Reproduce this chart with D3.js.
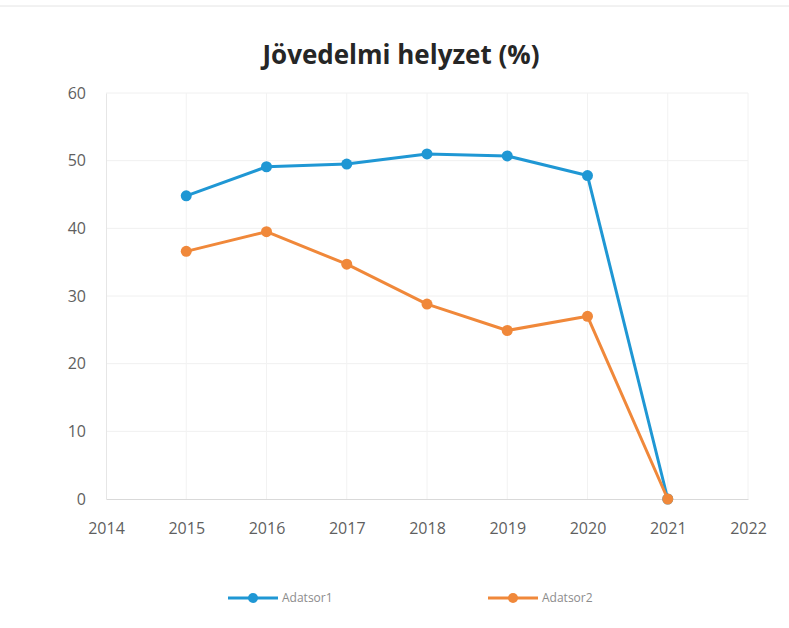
<!DOCTYPE html>
<html><head><meta charset="utf-8">
<script src="https://cdn.jsdelivr.net/npm/d3@7"></script>
<style>body{margin:0;background:#fff}svg{display:block}</style>
</head><body>
<svg id="c" width="789" height="628"></svg>
<script>
const years = [2015, 2016, 2017, 2018, 2019, 2020, 2021];
const series1 = [44.8, 49.1, 49.5, 51.0, 50.7, 47.8, 0];
const series2 = [36.6, 39.5, 34.7, 28.8, 24.9, 27.0, 0];
const seriesNames = ["Adatsor1", "Adatsor2"];
const colors = ["#1f97d4", "#f0883a"];
const xTicks = [2014, 2015, 2016, 2017, 2018, 2019, 2020, 2021, 2022];
const yTicks = [0, 10, 20, 30, 40, 50, 60];
const title = "Jövedelmi helyzet (%)";

const svg = d3.select("#c");
const x = d3.scaleLinear().domain([2014, 2022]).range([106, 748]);
const y = d3.scaleLinear().domain([0, 60]).range([499, 93]);
const font = "'Open Sans', 'Noto Sans', sans-serif";

// faint top border line
svg.append("line").attr("x1",0).attr("x2",789).attr("y1",6).attr("y2",6)
  .attr("stroke","#e4e4e4").attr("stroke-width",1);

// gridlines
svg.append("g").selectAll("line").data(yTicks.filter(d=>d>0)).join("line")
  .attr("x1", x(2014)).attr("x2", x(2022)).attr("y1", d=>y(d)).attr("y2", d=>y(d))
  .attr("stroke", "#f0f0f0").attr("stroke-width", 1);
svg.append("g").selectAll("line").data(xTicks.filter(d=>d>2014)).join("line")
  .attr("x1", d=>x(d)).attr("x2", d=>x(d)).attr("y1", y(0)).attr("y2", y(60))
  .attr("stroke", "#f2f2f2").attr("stroke-width", 1);

// axes
const xAxis = d3.axisBottom(x).tickValues(xTicks).tickFormat(d3.format("d")).tickSize(0).tickPadding(24);
const gx = svg.append("g").attr("transform", `translate(0,${y(0)})`).call(xAxis);
gx.select(".domain").attr("stroke", "#d9d9d9");
gx.selectAll("text").attr("font-family", font).attr("font-size", 16).attr("fill", "#5f5f5f");

const yAxis = d3.axisLeft(y).tickValues(yTicks).tickSize(0).tickPadding(20);
const gy = svg.append("g").attr("transform", `translate(${x(2014)},0)`).call(yAxis);
gy.select(".domain").attr("stroke", "#e6e6e6");
gy.selectAll("text").attr("font-family", font).attr("font-size", 16).attr("fill", "#5f5f5f");

// title
svg.append("text").attr("x", 401).attr("y", 64).attr("text-anchor", "middle")
  .attr("font-family", font).attr("font-weight", "bold").attr("font-size", 26)
  .attr("fill", "#262626").text(title);

// series
const allSeries = [series1, series2];
const line = d3.line().x((d,i)=>x(years[i])).y(d=>y(d));
allSeries.forEach((s, k) => {
  const g = svg.append("g");
  g.append("path").datum(s).attr("d", line).attr("fill", "none")
    .attr("stroke", colors[k]).attr("stroke-width", 3).attr("stroke-linejoin", "round");
  g.selectAll("circle").data(s).join("circle")
    .attr("cx", (d,i)=>x(years[i])).attr("cy", d=>y(d)).attr("r", 5.5)
    .attr("fill", colors[k]);
});

// legend
const legX = [228, 488];
seriesNames.forEach((n, k) => {
  const g = svg.append("g").attr("transform", `translate(${legX[k]},598)`);
  g.append("line").attr("x1", 0).attr("x2", 50).attr("stroke", colors[k]).attr("stroke-width", 3);
  g.append("circle").attr("cx", 25).attr("r", 5).attr("fill", colors[k]);
  g.append("text").attr("x", 54).attr("y", 4).attr("font-family", font).attr("font-size", 12)
    .attr("fill", "#8c8c8c").text(n);
});
</script>
</body></html>
